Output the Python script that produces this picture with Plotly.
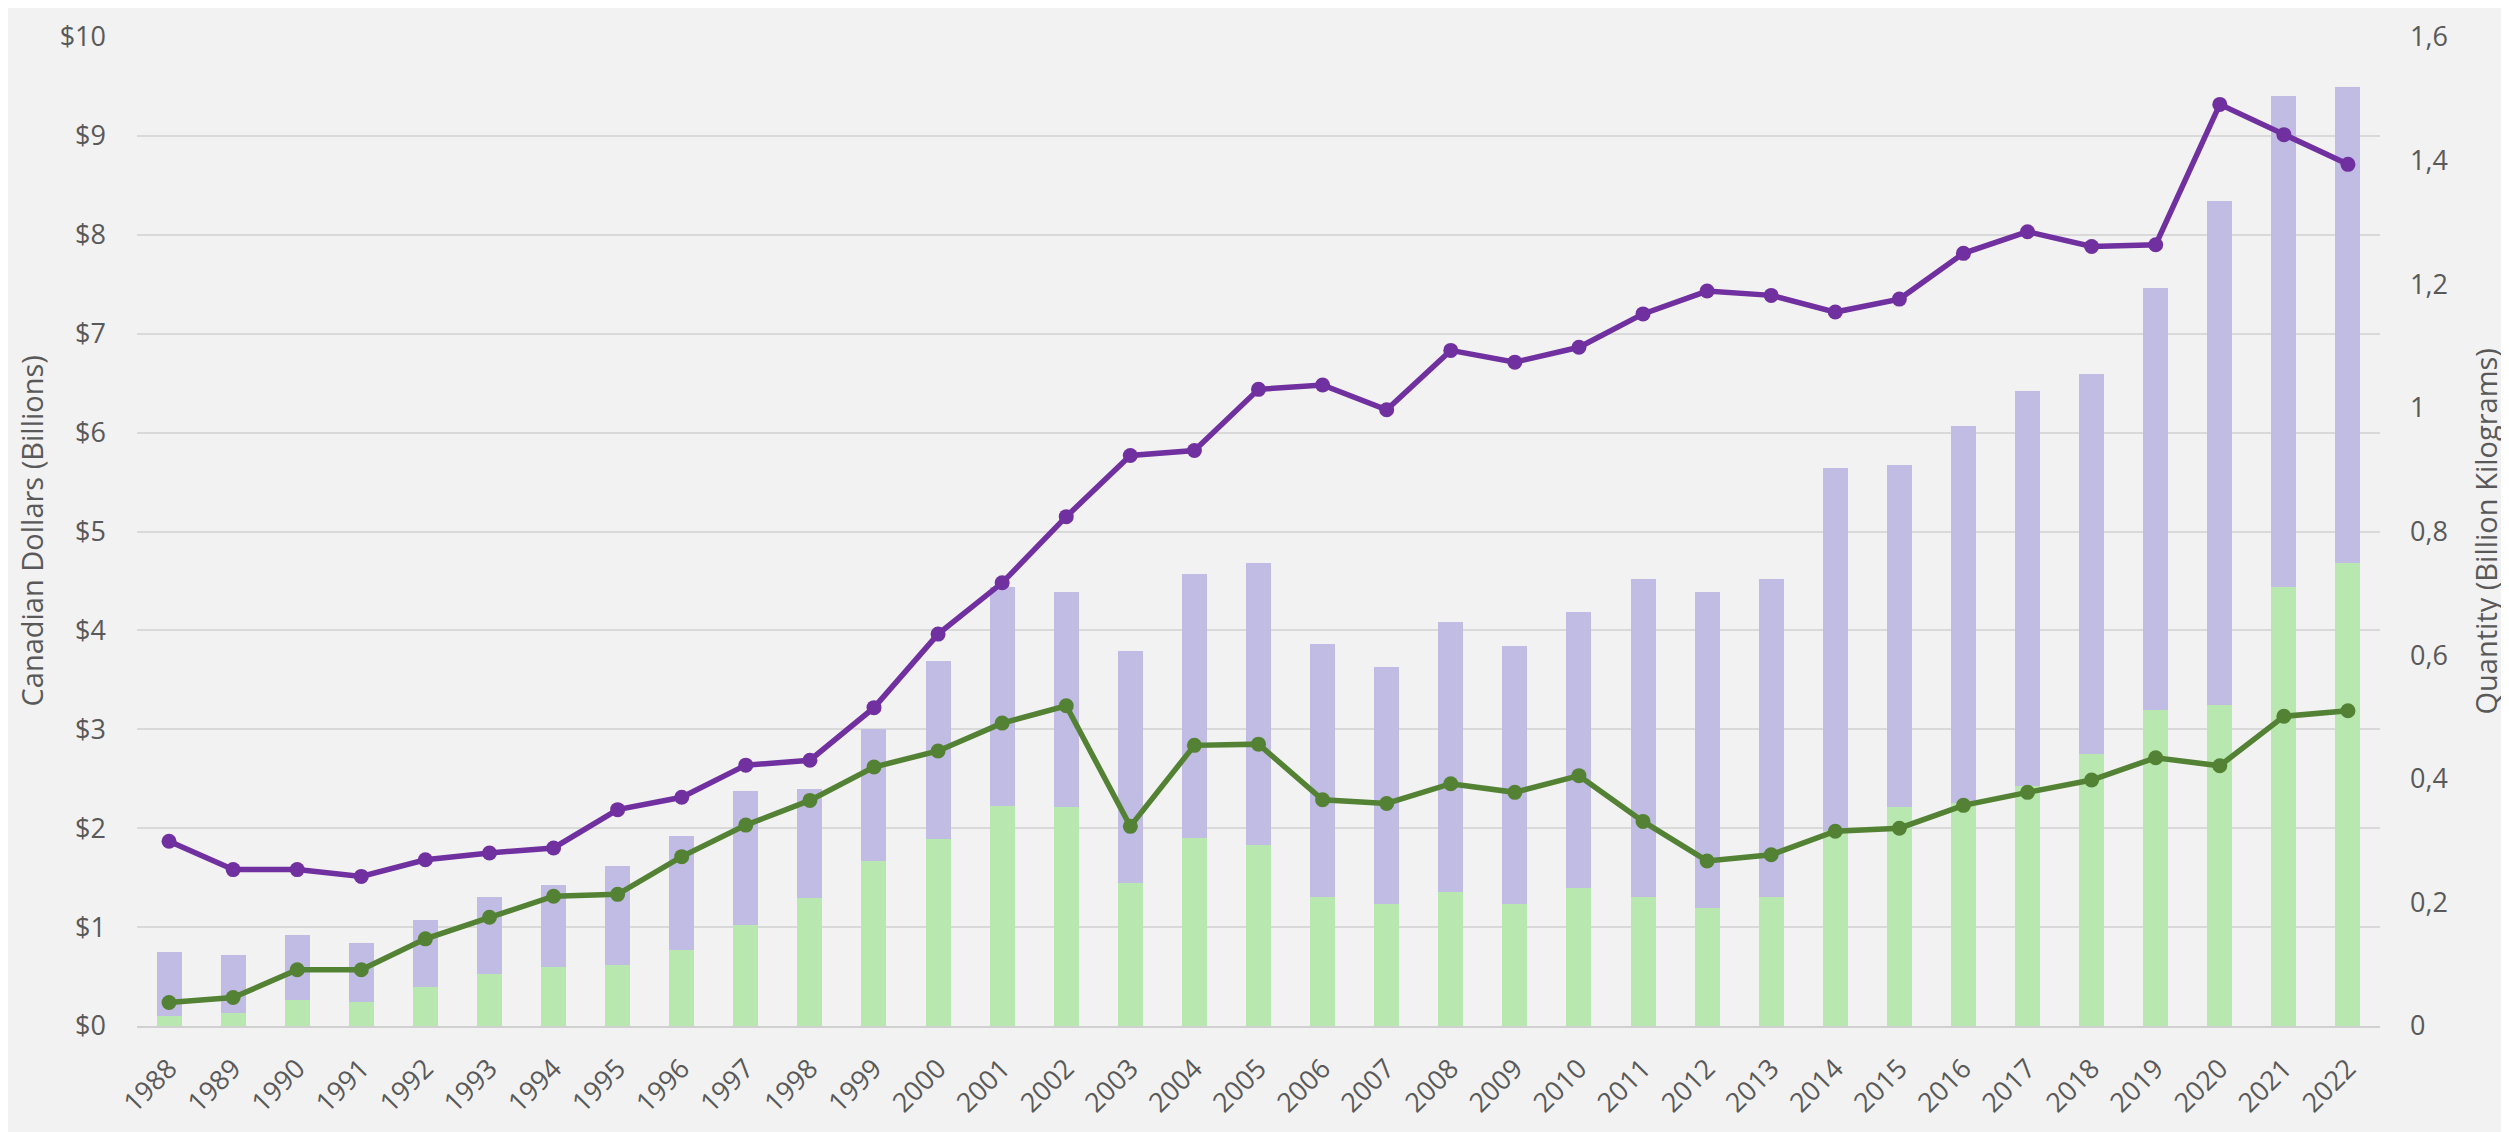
import plotly.graph_objects as go

years = [str(y) for y in range(1988, 2023)]

# Stacked bars (Canadian dollars, billions)
bar_green = [0.10, 0.13, 0.26, 0.24, 0.39, 0.53, 0.60, 0.62, 0.77, 1.02, 1.29, 1.67, 1.89, 2.22, 2.21,
             1.45, 1.90, 1.83, 1.30, 1.23, 1.36, 1.23, 1.40, 1.30, 1.19, 1.30, 1.97, 2.21, 2.25, 2.43,
             2.75, 3.20, 3.25, 4.44, 4.68]
bar_purple = [0.65, 0.59, 0.66, 0.60, 0.68, 0.77, 0.83, 1.00, 1.15, 1.36, 1.11, 1.33, 1.80, 2.22, 2.18,
              2.34, 2.67, 2.85, 2.56, 2.40, 2.72, 2.61, 2.79, 3.22, 3.20, 3.22, 3.67, 3.46, 3.82, 3.99,
              3.84, 4.26, 5.09, 4.96, 4.81]

# Lines (quantity, billion kilograms)
line_purple = [0.299, 0.253, 0.253, 0.242, 0.269, 0.280, 0.288, 0.350, 0.370, 0.422, 0.430, 0.515,
               0.634, 0.717, 0.824, 0.923, 0.931, 1.030, 1.037, 0.997, 1.093, 1.074, 1.098, 1.152,
               1.189, 1.182, 1.155, 1.176, 1.250, 1.285, 1.261, 1.264, 1.491, 1.442, 1.394]
line_green = [0.038, 0.046, 0.091, 0.091, 0.141, 0.176, 0.210, 0.213, 0.274, 0.325, 0.365, 0.419,
              0.445, 0.490, 0.518, 0.323, 0.454, 0.456, 0.366, 0.360, 0.392, 0.378, 0.405, 0.331,
              0.267, 0.277, 0.315, 0.320, 0.357, 0.378, 0.398, 0.434, 0.421, 0.501, 0.510]

left_tickvals = list(range(0, 11))
left_ticktext = ["$0", "$1", "$2", "$3", "$4", "$5", "$6", "$7", "$8", "$9", "$10"]
right_tickvals = [0, 0.2, 0.4, 0.6, 0.8, 1.0, 1.2, 1.4, 1.6]
right_ticktext = ["0", "0,2", "0,4", "0,6", "0,8", "1", "1,2", "1,4", "1,6"]

TICK_FONT = dict(family="Open Sans", size=27, color="#595959")
TITLE_FONT = dict(family="Open Sans", size=29, color="#595959")

fig = go.Figure()
fig.add_trace(go.Bar(x=years, y=bar_green, marker=dict(color="#b8e8b0", line=dict(width=0)),
                     yaxis="y", showlegend=False))
fig.add_trace(go.Bar(x=years, y=bar_purple, marker=dict(color="#c1bce3", line=dict(width=0)),
                     yaxis="y", showlegend=False))
fig.add_trace(go.Scatter(x=years, y=line_purple, mode="lines+markers", yaxis="y2",
                         line=dict(color="#7030a0", width=5.5), marker=dict(size=15, color="#7030a0"),
                         showlegend=False))
fig.add_trace(go.Scatter(x=years, y=line_green, mode="lines+markers", yaxis="y2",
                         line=dict(color="#548235", width=5.5), marker=dict(size=15, color="#548235"),
                         showlegend=False))

fig.update_layout(
    width=2509, height=1132,
    paper_bgcolor="#f2f2f2", plot_bgcolor="#f2f2f2",
    margin=dict(l=129, r=137, t=29, b=114, autoexpand=False),
    barmode="stack", bargap=0.61,
    xaxis=dict(type="category", range=[-0.5, 34.5], tickangle=-45, tickfont=TICK_FONT,
               showgrid=False, showline=True, linecolor="#d0d0d0", linewidth=2, ticks="",
               ticklabelstandoff=14, automargin=False, fixedrange=True),
    yaxis=dict(range=[0, 10], tickvals=left_tickvals, ticktext=left_ticktext, tickfont=TICK_FONT,
               showgrid=True, gridcolor="#d9d9d9", gridwidth=2, zeroline=False,
               ticklabelstandoff=30, automargin=False, fixedrange=True),
    yaxis2=dict(range=[0, 1.6], tickvals=right_tickvals, ticktext=right_ticktext, tickfont=TICK_FONT,
                overlaying="y", side="right", showgrid=False, zeroline=False,
                ticklabelstandoff=29, automargin=False, fixedrange=True),
    annotations=[
        dict(text="Canadian Dollars (Billions)", textangle=-90, xref="paper", yref="paper",
             x=(23 - 129) / 2243, y=0.5, xanchor="center", yanchor="middle", showarrow=False,
             font=TITLE_FONT),
        dict(text="Quantity (Billion Kilograms)", textangle=-90, xref="paper", yref="paper",
             x=(2477 - 129) / 2243, y=0.5, xanchor="center", yanchor="middle", showarrow=False,
             font=TITLE_FONT),
    ],
)

fig.write_html("out.html")
